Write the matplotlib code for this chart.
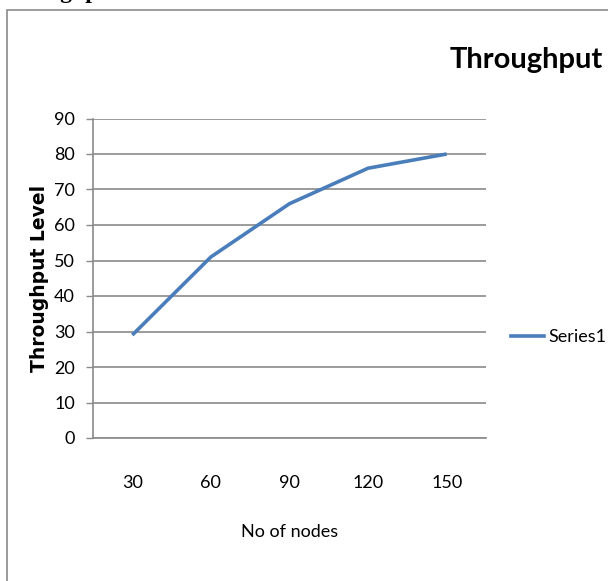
import matplotlib
matplotlib.use("Agg")
import matplotlib.pyplot as plt
from matplotlib.patches import Rectangle
from matplotlib.lines import Line2D

nodes = ["30", "60", "90", "120", "150"]
throughput = [29, 51, 66, 76, 80]
yticks = [0, 10, 20, 30, 40, 50, 60, 70, 80, 90]
series_name = "Series1"

W, H = 608, 581
fig = plt.figure(figsize=(W / 100, H / 100), dpi=100)
fig.patch.set_facecolor("white")

narrow = ["Lato", "DejaVu Sans"]

# outer chart border (extends past right/bottom edge)
fig.patches.append(Rectangle((7 / W, -0.05), 1.2, 1 - 10 / H + 0.05,
                             transform=fig.transFigure, fill=False,
                             edgecolor="#8a8a8a", linewidth=1.2))

# cropped heading of the page above (only its descenders show, as in the reference)
fig.text(-3 / W, 1 + 2 / H, "Throughput", family="Liberation Serif",
         weight="bold", fontsize=17, ha="left", va="baseline")

ax = fig.add_axes([93 / W, 1 - 438 / H, (486 - 93) / W, (438 - 118.5) / H])
x = list(range(len(nodes)))
ax.plot(x, throughput, color="#4a7ebb", linewidth=2.6, solid_capstyle="butt",
        solid_joinstyle="round")
ax.set_xlim(-0.5, len(nodes) - 0.5)
ax.set_ylim(0, 90)
ax.set_yticks(yticks)
ax.set_yticklabels([str(v) for v in yticks], family=narrow, fontsize=13)
ax.set_xticks(x)
ax.set_xticklabels(nodes, family=narrow, fontsize=13)
ax.tick_params(axis="x", length=0, pad=27)
ax.tick_params(axis="y", length=5, color="#8a8a8a", width=1, pad=8)
ax.yaxis.grid(True, color="#8a8a8a", linewidth=1.2)
ax.set_axisbelow(True)
for s in ["top", "right"]:
    ax.spines[s].set_visible(False)
ax.spines["left"].set_color("#8a8a8a")
ax.spines["bottom"].set_color("#8a8a8a")
ax.spines["left"].set_linewidth(1.2)
ax.spines["bottom"].set_linewidth(1.2)

fig.text(290 / W, 1 - 532 / H, "No of nodes", family=narrow, fontsize=13,
         ha="center", va="center")
fig.text(40 / W, 1 - 278 / H, "Throughput Level", family="DejaVu Sans",
         weight="bold", fontsize=13.5, rotation=90, ha="center", va="center")
fig.text(603 / W, 1 - 60 / H, "Throughput", family="Lato",
         weight="bold", fontsize=21, ha="right", va="center")

handle = Line2D([], [], color="#4a7ebb", linewidth=2.6)
fig.legend([handle], [series_name], loc="center left",
           bbox_to_anchor=(511 / W, 1 - 337 / H), frameon=False,
           prop={"family": narrow, "size": 13}, handlelength=1.8,
           handletextpad=0.25, borderaxespad=0, borderpad=0)

fig.savefig("out.png", dpi=100, facecolor="white")
